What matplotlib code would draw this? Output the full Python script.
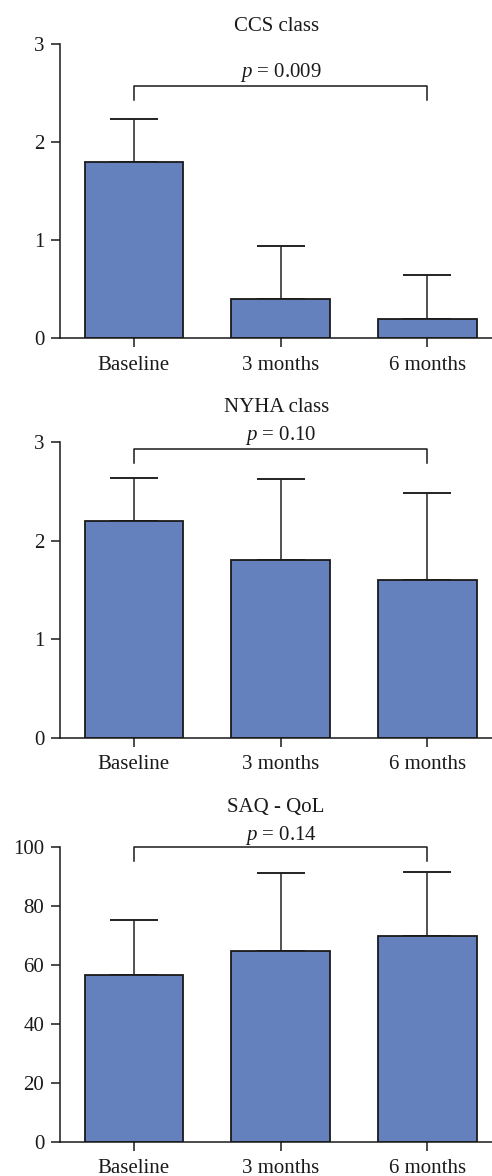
import matplotlib
matplotlib.use("Agg")
import matplotlib.pyplot as plt
import numpy as np

plt.rcParams['font.family'] = ['Liberation Serif', 'DejaVu Serif']
plt.rcParams['mathtext.fontset'] = 'custom'
plt.rcParams['mathtext.it'] = 'Liberation Serif:italic'
plt.rcParams['mathtext.rm'] = 'Liberation Serif'

categories = ["Baseline", "3 months", "6 months"]

ccs_mean = [1.8, 0.4, 0.2]
ccs_sd = [0.44, 0.545, 0.445]
nyha_mean = [2.2, 1.8, 1.6]
nyha_sd = [0.44, 0.83, 0.89]
saq_mean = [56.5, 64.8, 69.9]
saq_sd = [18.8, 26.4, 21.6]

titles = ["CCS class", "NYHA class", "SAQ - QoL"]
pvals = ["0.009", "0.10", "0.14"]
yticks = [[0, 1, 2, 3], [0, 1, 2, 3], [0, 20, 40, 60, 80, 100]]
ylims = [(0, 3), (0, 3), (0, 100)]
# bracket: (top, bottom-end) in data units, p-text y
brackets = [(2.57, 2.43, 2.71), (2.93, 2.79, 3.065), (100, 95.1, 104)]
title_pad = [9.5, 22, 25.5]

means = [ccs_mean, nyha_mean, saq_mean]
sds = [ccs_sd, nyha_sd, saq_sd]

W, H = 492, 1176
fig = plt.figure(figsize=(W / 100, H / 100), dpi=100)

rects = [(60.3, 338.3, 44.3), (60.3, 737.7, 442.3), (60.3, 1141.7, 847.0)]
bar_color = "#6480BD"
fs = 15

for i in range(3):
    l, y0, y1 = rects[i]
    ax = fig.add_axes([l / W, 1 - y0 / H, (W - l) / W, (y0 - y1) / H])
    x = np.arange(len(categories))
    m = np.array(means[i])
    s = np.array(sds[i])
    ax.bar(x, m, width=0.67, color=bar_color, edgecolor="#1a1a1a", linewidth=1.3, zorder=2)
    ax.errorbar(x, m, yerr=[np.zeros_like(s), s], fmt="none", ecolor="#222222",
                elinewidth=1.1, capsize=17.6, capthick=1.4, zorder=1)
    ax.set_xlim(-0.5, 2.44)
    ax.set_ylim(*ylims[i])
    ax.set_yticks(yticks[i])
    ax.set_xticks(x)
    ax.set_xticklabels(categories)
    for sp in ["top", "right"]:
        ax.spines[sp].set_visible(False)
    for sp in ["left", "bottom"]:
        ax.spines[sp].set_linewidth(1.1)
        ax.spines[sp].set_color("#1a1a1a")
    ax.tick_params(axis="both", direction="out", length=6.5, width=1.1, color="#1a1a1a",
                   labelsize=fs, labelcolor="#1a1a1a")
    ax.tick_params(axis="y", pad=5)
    ax.tick_params(axis="x", pad=6)
    ax.patch.set_alpha(0)
    top, bot, ptext = brackets[i]
    ax.plot([x[0], x[0], x[2], x[2]], [bot, top, top, bot], color="#1a1a1a", lw=1.1,
            clip_on=False, zorder=3)
    ax.text(1, ptext, r"$\it{p}$ = " + pvals[i], ha="center", va="center", fontsize=fs,
            color="#1a1a1a", clip_on=False)
    ax.set_title(titles[i], fontsize=fs, pad=title_pad[i], color="#1a1a1a")

fig.savefig("out.png", dpi=100)
